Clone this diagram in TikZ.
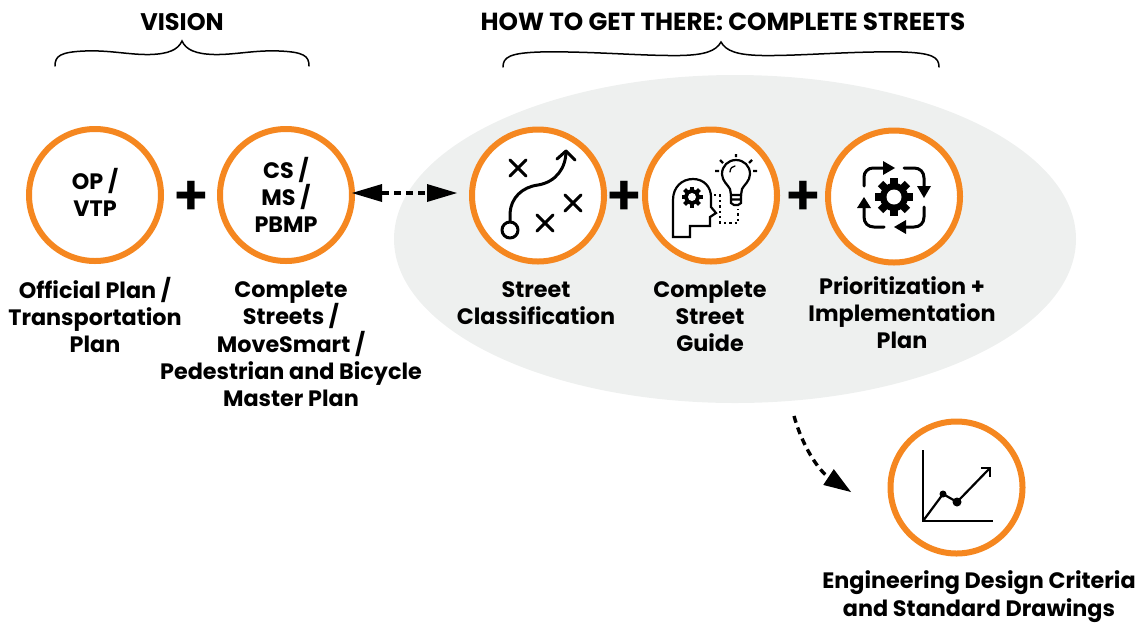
\documentclass[tikz,border=0pt]{standalone}
\usepackage{fontspec}
\setmainfont{Poppins}[UprightFont=* SemiBold,BoldFont=* Bold]
\usetikzlibrary{arrows.meta,shapes.geometric}
\definecolor{ringor}{HTML}{F58720}
\definecolor{blobgrey}{HTML}{EEF0EF}
\tikzset{
  x=1pt,y=-1pt,
  ring/.style={circle,draw=ringor,line width=6pt,fill=white,minimum size=132pt,inner sep=0pt,outer sep=0pt},
  lab/.style={align=center,font=\fontsize{22.3}{27.3}\bfseries\selectfont,text=black,inner sep=0pt},
  head/.style={align=center,font=\fontsize{24}{27}\bfseries\selectfont,text=black,inner sep=0pt},
  headwide/.style={align=center,font=\fontsize{24.7}{27}\bfseries\selectfont,text=black,inner sep=0pt},
  plussign/.style={font=\fontsize{56}{56}\selectfont,text=black,inner sep=0pt},
  ico/.style={draw=black,line width=3pt,line cap=round,line join=round},
  thinico/.style={draw=black,line width=2.2pt,line cap=round,line join=miter},
  brc/.style={draw=black,line width=1.5pt,line cap=round},
  dashar/.style={draw=black,line width=3.4pt,dash pattern=on 7pt off 5pt}
}
\newcommand{\gearmark}[4]{% x y outer hole
  \foreach \a in {0,45,...,315}{
    \fill[black,rotate around={\a:(#1,#2)}] ({#1-0.2*#3},{#2}) rectangle ({#1+0.2*#3},{#2-#3});
  }
  \fill[black] (#1,#2) circle[radius=0.74*#3];
  \fill[white] (#1,#2) circle[radius=#4];
}
\begin{document}
\begin{tikzpicture}
\useasboundingbox (0,0) rectangle (1147,622);
\node[ellipse,fill=blobgrey,minimum width=682pt,minimum height=328pt,inner sep=0pt] (blob) at (735,239) {};

% braces
\draw[brc] (55,66) .. controls (55,56) and (60,52) .. (85,51) .. controls (110,50) and (130,55) .. (150,54.5) .. controls (168,54) and (178,50) .. (182,41)
           .. controls (186,50) and (196,54) .. (214,54.5) .. controls (234,55) and (254,50) .. (279,51) .. controls (304,52) and (309,56) .. (309,66);
\draw[brc] (503,67) .. controls (503,57) and (510,53) .. (540,52) .. controls (590,51) and (640,56) .. (680,55.5) .. controls (705,55) and (716,51) .. (721,42)
           .. controls (726,51) and (737,55) .. (762,55.5) .. controls (802,56) and (852,51) .. (902,52) .. controls (932,53) and (939,57) .. (939,67);

\node[head] (tvision) at (182,22) {VISION};
\node[headwide] (thow) at (723,22) {HOW TO GET THERE: COMPLETE STREETS};

% circles
\node[ring] (op) at (95,195) {};
\node[ring] (cs) at (286,195) {};
\node[ring] (sc) at (538,195.5) {};
\node[ring] (gd) at (711,195.5) {};
\node[ring] (pr) at (894,196.5) {};
\node[ring] (en) at (956.5,487.5) {};

\node[lab] (opt) at (95,192.5) {OP /\\VTP};
\node[lab] (cst) at (286,195) {CS /\\MS /\\PBMP};

% plus signs
\node[plussign] (p1) at (191,198) {+};
\node[plussign] (p2) at (624.5,198) {+};
\node[plussign] (p3) at (803,198) {+};

% captions
\node[lab] (c1) at (95,315) {Official Plan /\\Transportation\\Plan};
\node[lab] (c2) at (291,344) {Complete\\Streets /\\MoveSmart /\\Pedestrian and Bicycle\\Master Plan};
\node[lab] (c3) at (536,303) {Street\\Classification};
\node[lab] (c4) at (710,316.5) {Complete\\Street\\Guide};
\node[lab] (c5) at (902,312.5) {Prioritization +\\Implementation\\Plan};
\node[lab] (c6) at (979,596.5) {Engineering Design Criteria\\and Standard Drawings};

% connectors
\coordinate (al) at (352,193);
\coordinate (ar) at (457,193);
\draw[dashar,{Triangle[length=30pt,width=18pt,line width=0pt]}-{Triangle[length=30pt,width=18pt,line width=0pt]}] (al) -- (ar);
\coordinate (bs) at (794,416);
\coordinate (be) at (851,492);
\draw[dashar,-{Triangle[length=27pt,width=19pt,line width=0pt]}] (bs) .. controls (802,445) and (818,470) .. (be);

% icon: street classification
\draw[ico] (510,230) circle[radius=8];
\draw[ico,line join=round] (510,222) -- (510,213) .. controls (511,198) and (522,187) .. (538,185) .. controls (556,182) and (566,168) .. (566,151);
\draw[ico] (557,159) -- (566,151) -- (575,160);
\foreach \cx/\cy in {518/168,573/203,545/223}{
  \draw[ico] (\cx-8,\cy-8) -- (\cx+8,\cy+8) (\cx-8,\cy+8) -- (\cx+8,\cy-8);
}

% icon: guide
\draw[thinico] (673,237) -- (673,200) .. controls (673,187) and (682,179) .. (693,179) .. controls (704,179) and (711,187) .. (711,197) -- (711,207) -- (716,213) -- (710,217) -- (710,226) -- (690,226) -- (690,237) -- cycle;
\gearmark{692}{197}{10.5}{4}
\draw[thinico] (731,195) -- (730,189) .. controls (728,185) and (722,181) .. (722,174) .. controls (722,166) and (728,160) .. (736,160) .. controls (744,160) and (750,166) .. (750,174) .. controls (750,181) and (744,185) .. (742,189) -- (741,195) -- cycle;
\draw[thinico] (731,195) -- (731,203) -- (734,205) -- (738,205) -- (741,203) -- (741,195) (731,199.5) -- (741,199.5);
\draw[black,line width=1.3pt,line cap=round] (730,172) .. controls (730,168) and (733,166) .. (735,166);
\draw[thinico,line cap=butt] (736,154) -- (736,157) (720,160) -- (723,163) (752,160) -- (749,163) (715,171) -- (719,171) (753,171) -- (757,171);
\draw[black,line width=2.4pt,dash pattern=on 2.4pt off 3pt] (714,195) -- (720,195) -- (720,223) -- (738,223) -- (738,209);

% icon: prioritization
\gearmark{894}{197}{19}{7.5}
\draw[ico] (864,186) -- (864,177) .. controls (864,172) and (868,168) .. (873,168) -- (884,168);
\fill[black] (883,161) -- (895,168) -- (883,175) -- cycle;
\draw[ico] (904,168) -- (914,168) .. controls (920,168) and (924,172) .. (924,178) -- (924,187);
\fill[black] (917,186) -- (931,186) -- (924,198) -- cycle;
\draw[ico] (924,207) -- (924,217) .. controls (924,223) and (920,227) .. (914,227) -- (905,227);
\fill[black] (906,220) -- (894,227) -- (906,234) -- cycle;
\draw[ico] (884,227) -- (874,227) .. controls (868,227) and (864,223) .. (864,217) -- (864,208);
\fill[black] (857,208) -- (871,208) -- (864,197) -- cycle;

% icon: engineering
\draw[thinico,line cap=butt] (923,450) -- (923,521) -- (993,521);
\draw[thinico,line cap=butt] (923,521) -- (943,494) -- (957,502) -- (989,469);
\draw[thinico,line cap=butt] (981,468) -- (990,468) -- (990,477);
\fill[black] (943,494) circle[radius=3.5];
\fill[black] (957,502) circle[radius=4.5];
\end{tikzpicture}
\end{document}
